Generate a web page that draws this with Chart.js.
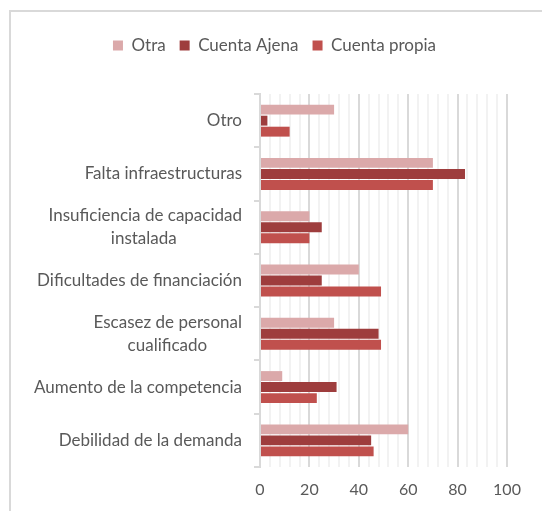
<!DOCTYPE html>
<html>
<head>
<meta charset="utf-8">
<script src="https://cdn.jsdelivr.net/npm/chart.js@4/dist/chart.umd.min.js"></script>
<style>
    body { margin: 0; background: #fff; }
    #wrap { position: relative; width: 542px; height: 511px; overflow: hidden; }
    #frame { position: absolute; left: 9px; top: 10px; width: 600px; height: 600px; border: 2px solid #d9d9d9; }
    canvas { position: absolute; left: 0; top: 0; }
</style>
</head>
<body>
<div id="wrap">
    <div id="frame"></div>
    <canvas id="chart" width="542" height="511"></canvas>
</div>
<script>
// Chart data
const categories = [
    ['Otro'],
    ['Falta infraestructuras'],
    ['Insuficiencia de capacidad', 'instalada'],
    ['Dificultades de financiación'],
    ['Escasez de personal', 'cualificado'],
    ['Aumento de la competencia'],
    ['Debilidad de la demanda']
];
const seriesNames = ['Otra', 'Cuenta Ajena', 'Cuenta propia'];
const otra = [30, 70, 20, 40, 30, 9, 60];
const cuentaAjena = [3, 83, 25, 25, 48, 31, 45];
const cuentaPropia = [12, 70, 20, 49, 49, 23, 46];
const xTicks = [0, 20, 40, 60, 80, 100];

const colors = ['#dba9aa', '#9e3d3d', '#c0504d'];
const fontFamily = 'Lato, "Noto Sans", sans-serif';
const textColor = '#595959';

// pad shorter lines with spaces so multi-line labels look centred
function centerLines(lines, font) {
    if (lines.length < 2) return lines;
    const ctx = document.createElement('canvas').getContext('2d');
    ctx.font = font;
    const widths = lines.map(l => ctx.measureText(l).width);
    const max = Math.max(...widths);
    const space = ctx.measureText(' ').width;
    return lines.map((l, i) => l + ' '.repeat(Math.round((max - widths[i]) / 2 / space)));
}

const labelFont = '17px ' + fontFamily;
const labels = categories.map(c => centerLines(c, labelFont));

// extra room under the legend, and nudge it right to sit over the frame centre
const legendGap = {
    id: 'legendGap',
    beforeInit(chart) {
        const fit = chart.legend.fit;
        chart.legend.fit = function() {
            fit.bind(chart.legend)();
            this.height += 30;
        };
    },
    afterLayout(chart) {
        chart.legend.left += 21;
        chart.legend.right += 21;
    }
};

new Chart(document.getElementById('chart'), {
    type: 'bar',
    data: {
        labels: labels,
        datasets: [
            { label: seriesNames[0], data: otra, backgroundColor: colors[0] },
            { label: seriesNames[1], data: cuentaAjena, backgroundColor: colors[1] },
            { label: seriesNames[2], data: cuentaPropia, backgroundColor: colors[2] }
        ]
    },
    plugins: [legendGap],
    options: {
        indexAxis: 'y',
        responsive: false,
        animation: false,
        datasets: {
            bar: {
                categoryPercentage: 0.62,
                barPercentage: 0.9
            }
        },
        layout: {
            padding: { left: 0, right: 35, top: 23, bottom: 0 }
        },
        plugins: {
            legend: {
                position: 'top',
                labels: {
                    boxWidth: 10,
                    boxHeight: 10,
                    padding: 14,
                    color: textColor,
                    font: { family: fontFamily, size: 17 }
                }
            },
            tooltip: { enabled: false }
        },
        scales: {
            x: {
                min: 0,
                max: 100,
                ticks: {
                    stepSize: 4,
                    autoSkip: false,
                    maxRotation: 0,
                    color: textColor,
                    font: { family: fontFamily, size: 16 },
                    padding: 13,
                    callback: v => xTicks.includes(v) ? v : ''
                },
                grid: {
                    drawTicks: false,
                    lineWidth: 2,
                    color: c => (c.tick && c.tick.value % 20 === 0) ? '#d9d9d9' : '#f2f2f2'
                },
                border: { display: false },
                afterFit: scale => { scale.height = 44; }
            },
            y: {
                ticks: {
                    color: textColor,
                    font: { family: fontFamily, size: 17, lineHeight: 1.35 },
                    padding: 12
                },
                grid: {
                    offset: true,
                    drawOnChartArea: false,
                    drawTicks: true,
                    tickLength: 6,
                    lineWidth: 2,
                    color: '#d9d9d9'
                },
                border: { color: '#d9d9d9', width: 2 },
                afterFit: scale => { scale.width = 260; }
            }
        }
    }
});
</script>
</body>
</html>
